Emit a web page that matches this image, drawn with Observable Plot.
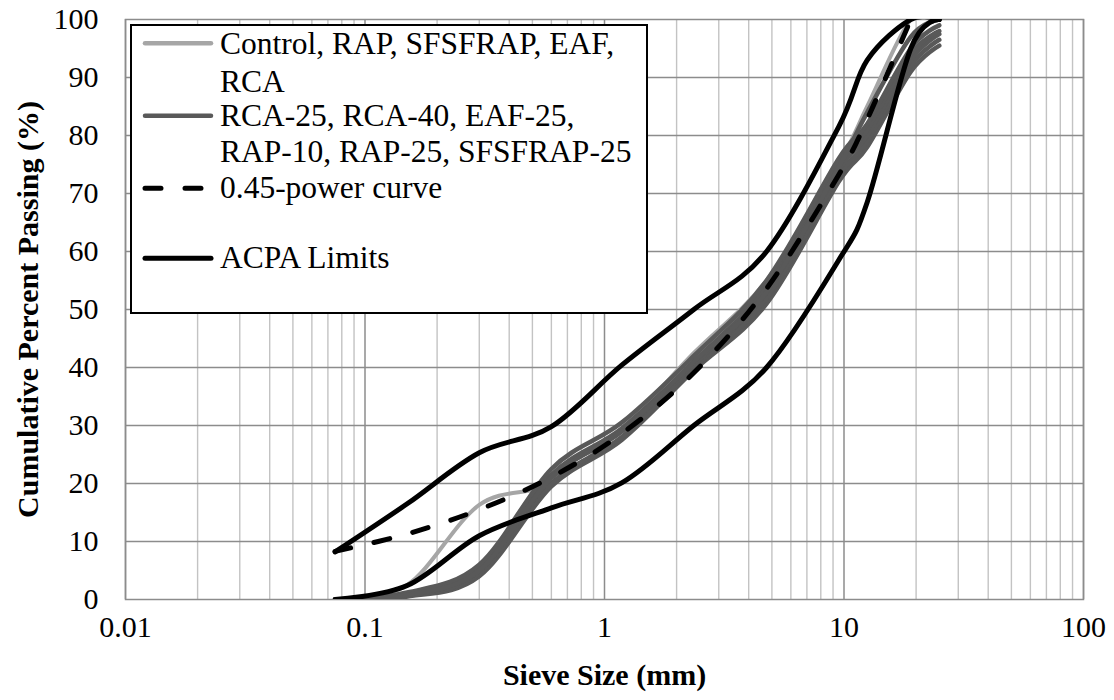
<!DOCTYPE html>
<html>
<head>
<meta charset="utf-8">
<script src="https://cdn.jsdelivr.net/npm/d3@7"></script>
<script src="https://cdn.jsdelivr.net/npm/@observablehq/plot@0.6"></script>
<style>
  body { margin: 0; background: #fff; }
  #wrap { position: relative; width: 1114px; height: 700px; font-family: "Liberation Serif", "Times New Roman", serif; }
  #legend { position: absolute; left: 130px; top: 24px; }
</style>
</head>
<body>
<div id="wrap"></div>
<script>
// Sieve openings (mm)
const sieveSizes = [0.075, 0.15, 0.3, 0.6, 1.18, 2.36, 4.75, 9.5, 12.5, 19, 25];

// Cumulative percent passing at each sieve
const controlBlend = [0, 2.5, 16.3, 20, 29.5, 42.5, 55, 75, 85, 100, 100];
const rca25     = [0, 0.5, 4, 19.5, 27.5, 39.5, 51, 72, 78, 91, 95.5];
const rca40     = [0, 0.6, 4.5, 20, 28, 40, 52, 73, 79, 92, 96.5];
const eaf25     = [0, 0.8, 5, 21, 29, 40.5, 53, 74, 80, 93, 97.5];
const rap10     = [0, 1.0, 5.5, 21.5, 29.5, 41, 54, 75, 81, 94, 98];
const rap25     = [0, 1.2, 6, 22.5, 30.5, 42, 55, 76, 82, 95, 99];
const sfsfrap25 = [0, 0.8, 5, 21, 29, 41, 53, 74.5, 84, 97, 100];
const powerCurve = [8.3, 11.3, 15.5, 21.1, 28.6, 39.1, 53.6, 73.2, 82.8, 100];
const acpaUpper = [8.2, 16.5, 25.3, 29.8, 40.4, 50, 60, 81.5, 93, 100, 100];
const acpaLower = [0, 2.4, 11, 15.8, 20.1, 30, 40, 58.5, 68.5, 95, 100];

// Axis ticks and labels
const xMajorTicks = [0.01, 0.1, 1, 10, 100];
const xTickLabels = ["0.01", "0.1", "1", "10", "100"];
const xMinorTicks = [2, 3, 4, 5, 6, 7, 8, 9].flatMap(m => [0.01, 0.1, 1, 10].map(d => +(m * d).toPrecision(3)));
const yTicks = [0, 10, 20, 30, 40, 50, 60, 70, 80, 90, 100];
const yGrid = [10, 20, 30, 40, 50, 60, 70, 80, 90];

// Legend entries
const legendItems = [
  {lines: ["Control, RAP, SFSFRAP, EAF,", "RCA"], stroke: "#a6a6a6", dash: null},
  {lines: ["RCA-25, RCA-40, EAF-25,", "RAP-10, RAP-25, SFSFRAP-25"], stroke: "#595959", dash: null},
  {lines: ["0.45-power curve"], stroke: "#000", dash: "16 24"},
  {lines: ["ACPA Limits"], stroke: "#000", dash: null}
];

const toRows = (name, values) => values.map((p, i) => ({series: name, size: sieveSizes[i], passing: p}));

const lightRows = toRows("Control", controlBlend);
const darkRows = [
  ["RCA-25", rca25], ["RCA-40", rca40], ["EAF-25", eaf25],
  ["RAP-10", rap10], ["RAP-25", rap25], ["SFSFRAP-25", sfsfrap25]
].flatMap(([n, v]) => toRows(n, v));
const powerRows = toRows("0.45-power", powerCurve);
const limitRows = [...toRows("ACPA upper", acpaUpper), ...toRows("ACPA lower", acpaLower)];

const font = '"Liberation Serif", "Times New Roman", serif';
const lineOpts = {x: "size", y: "passing", z: "series", curve: "cardinal", clip: true, strokeLinecap: "round", strokeLinejoin: "round"};

const chart = Plot.plot({
  width: 1114,
  height: 700,
  marginLeft: 125,
  marginRight: 31,
  marginTop: 19,
  marginBottom: 101,
  style: {fontFamily: font, background: "#fff", color: "#000", overflow: "visible"},
  x: {type: "log", domain: [0.01, 100], axis: null},
  y: {domain: [0, 100]},
  marks: [
    Plot.ruleX(xMinorTicks, {stroke: "#c3c3c3", strokeWidth: 1.4}),
    Plot.ruleX(xMajorTicks, {stroke: "#8c8c8c", strokeWidth: 1.5}),
    Plot.ruleY(yGrid, {stroke: "#8c8c8c", strokeWidth: 1.5}),
    Plot.frame({stroke: "#8c8c8c", strokeWidth: 1.5}),
    Plot.line(lightRows, {...lineOpts, stroke: "#a6a6a6", strokeWidth: 4}),
    Plot.line(darkRows, {...lineOpts, stroke: "#595959", strokeWidth: 4.5}),
    Plot.line(powerRows, {...lineOpts, stroke: "#000", strokeWidth: 5, strokeDasharray: "16 24"}),
    Plot.line(limitRows, {...lineOpts, stroke: "#000", strokeWidth: 5}),
    // x tick labels
    Plot.text(xMajorTicks, {x: d => d, text: (d, i) => xTickLabels[i], frameAnchor: "bottom", dy: 37, fontSize: 30, fill: "#000"}),
    Plot.axisY({ticks: yTicks, tickSize: 0, tickPadding: 27, fontSize: 30, label: null}),
    Plot.text(["Sieve Size (mm)"], {frameAnchor: "bottom", dy: 85, fontWeight: "bold", fontSize: 30, fill: "#000"}),
    Plot.text(["Cumulative Percent Passing (%)"], {frameAnchor: "left", dx: -97, rotate: -90, textAnchor: "middle", fontWeight: "bold", fontSize: 30, fill: "#000"})
  ]
});

const wrap = document.getElementById("wrap");
wrap.appendChild(chart);

// Legend box drawn on top of the plot area
const legW = 518, legH = 290;
const leg = d3.create("svg")
  .attr("id", "legend")
  .attr("width", legW)
  .attr("height", legH)
  .style("font-family", font);
leg.append("rect")
  .attr("x", 1).attr("y", 1)
  .attr("width", legW - 2).attr("height", legH - 2)
  .attr("fill", "#fff").attr("stroke", "#000").attr("stroke-width", 2);

const entryLineY = [19.3, 91.7, 164.3, 234.3];
const entryTextY = [[30.3, 67.7], [102, 137.7], [173.7], [244.3]];
legendItems.forEach((item, i) => {
  leg.append("line")
    .attr("x1", 15).attr("x2", 81)
    .attr("y1", entryLineY[i]).attr("y2", entryLineY[i])
    .attr("stroke", item.stroke)
    .attr("stroke-width", item.stroke === "#000" ? 5 : 4.5)
    .attr("stroke-linecap", "round")
    .attr("stroke-dasharray", item.dash);
  item.lines.forEach((t, j) => {
    leg.append("text")
      .attr("x", 90).attr("y", entryTextY[i][j])
      .attr("font-size", 31.5)
      .attr("fill", "#000")
      .text(t);
  });
});
wrap.appendChild(leg.node());
</script>
</body>
</html>
